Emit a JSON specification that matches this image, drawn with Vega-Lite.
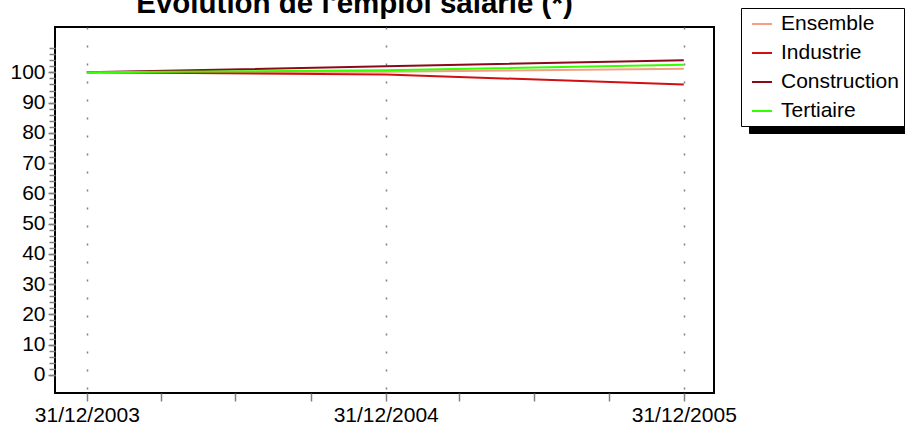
{
  "$schema": "https://vega.github.io/schema/vega-lite/v6.json",
  "width": 659,
  "height": 366,
  "autosize": {"type": "none"},
  "padding": {"left": 55, "top": 27, "right": 191, "bottom": 33},
  "background": "white",
  "title": {
    "text": "Evolution de l'emploi salarié (*)",
    "font": "Liberation Sans",
    "fontSize": 29.5,
    "fontWeight": "bold",
    "color": "black",
    "anchor": "middle",
    "frame": "group",
    "dx": -30,
    "offset": -12
  },
  "config": {
    "view": {"stroke": "black", "strokeWidth": 2},
    "font": "Liberation Sans",
    "axis": {
      "labelFont": "Liberation Sans",
      "labelFontSize": 21,
      "labelColor": "black",
      "tickColor": "#808080",
      "tickWidth": 1.5,
      "domain": false,
      "title": null,
      "labelFlush": false,
      "labelOverlap": false
    },
    "legend": {
      "orient": "none",
      "padding": 5,
      "symbolType": "stroke",
      "symbolSize": 400,
      "symbolStrokeWidth": 2,
      "labelFont": "Liberation Sans",
      "labelFontSize": 21,
      "rowPadding": 8,
      "labelOffset": 8,
      "symbolOffset": 5
    }
  },
  "data": {
    "values": [
      {"date": "2003-12-31", "serie": "Ensemble", "valeur": 100},
      {"date": "2004-12-31", "serie": "Ensemble", "valeur": 100.2},
      {"date": "2005-12-31", "serie": "Ensemble", "valeur": 101.2},
      {"date": "2003-12-31", "serie": "Industrie", "valeur": 100},
      {"date": "2004-12-31", "serie": "Industrie", "valeur": 99.3},
      {"date": "2005-12-31", "serie": "Industrie", "valeur": 96.0},
      {"date": "2003-12-31", "serie": "Construction", "valeur": 100},
      {"date": "2004-12-31", "serie": "Construction", "valeur": 102.0},
      {"date": "2005-12-31", "serie": "Construction", "valeur": 104.0},
      {"date": "2003-12-31", "serie": "Tertiaire", "valeur": 100},
      {"date": "2004-12-31", "serie": "Tertiaire", "valeur": 100.7},
      {"date": "2005-12-31", "serie": "Tertiaire", "valeur": 102.5}
    ]
  },
  "resolve": {"axis": {"x": "independent", "y": "independent"}},
  "layer": [
    {
      "mark": {"type": "point", "opacity": 0},
      "encoding": {
        "x": {
          "field": "date",
          "type": "temporal",
          "scale": {
            "type": "utc",
            "domain": [
              {"year": 2003, "month": 11, "date": 22, "utc": true},
              {"year": 2006, "month": 2, "date": 6, "utc": true}
            ]
          },
          "axis": {
            "orient": "bottom",
            "values": [
              {"year": 2004, "month": 3, "date": 31, "utc": true},
              {"year": 2004, "month": 6, "date": 30, "utc": true},
              {"year": 2004, "month": 9, "date": 30, "utc": true},
              {"year": 2005, "month": 3, "date": 31, "utc": true},
              {"year": 2005, "month": 6, "date": 30, "utc": true},
              {"year": 2005, "month": 9, "date": 30, "utc": true}
            ],
            "labels": false,
            "grid": false,
            "tickSize": 8
          }
        },
        "y": {
          "field": "valeur",
          "type": "quantitative",
          "scale": {"domain": [-6, 115], "nice": false, "zero": false},
          "axis": {
            "orient": "left",
            "values": [0,2,4,6,8,10,12,14,16,18,20,22,24,26,28,30,32,34,36,38,40,42,44,46,48,50,52,54,56,58,60,62,64,66,68,70,72,74,76,78,80,82,84,86,88,90,92,94,96,98,100,102,104,106,108],
            "labels": false,
            "grid": false,
            "tickSize": 6
          }
        },
        "shape": {
          "field": "serie",
          "type": "nominal",
          "scale": {
            "domain": ["Tertiaire", "Construction", "Industrie", "Ensemble"],
            "range": ["stroke", "stroke", "stroke", "stroke"]
          },
          "legend": {
            "title": null,
            "legendX": 694,
            "legendY": -12,
            "zindex": 0,
            "fillColor": "black",
            "strokeColor": "black",
            "labelColor": "black",
            "labelExpr": "''",
            "labelOffset": 140,
            "symbolStrokeColor": "black",
            "symbolFillColor": "black"
          }
        }
      }
    },
    {
      "mark": {"type": "line", "strokeWidth": 2},
      "encoding": {
        "x": {
          "field": "date",
          "type": "temporal",
          "axis": {
            "orient": "bottom",
            "values": [
              {"year": 2003, "month": 12, "date": 31, "utc": true},
              {"year": 2004, "month": 12, "date": 31, "utc": true},
              {"year": 2005, "month": 12, "date": 31, "utc": true}
            ],
            "format": "%d/%m/%Y",
            "tickSize": 8,
            "labelPadding": 3,
            "grid": true,
            "gridColor": "#808080",
            "gridWidth": 1.5,
            "gridDash": [2, 16]
          }
        },
        "y": {
          "field": "valeur",
          "type": "quantitative",
          "axis": {
            "orient": "left",
            "values": [0,10,20,30,40,50,60,70,80,90,100],
            "tickSize": 7,
            "labelPadding": 3,
            "grid": false
          }
        },
        "color": {
          "field": "serie",
          "type": "nominal",
          "scale": {
            "domain": ["Ensemble", "Industrie", "Construction", "Tertiaire"],
            "range": ["#F4A080", "#D01010", "#8B0A1A", "#33FF00"]
          },
          "legend": {
            "title": null,
            "legendX": 686,
            "legendY": -19,
            "zindex": 1,
            "fillColor": "white",
            "strokeColor": "black",
            "labelColor": "black"
          }
        },
        "order": {"field": "serie"}
      }
    }
  ]
}
